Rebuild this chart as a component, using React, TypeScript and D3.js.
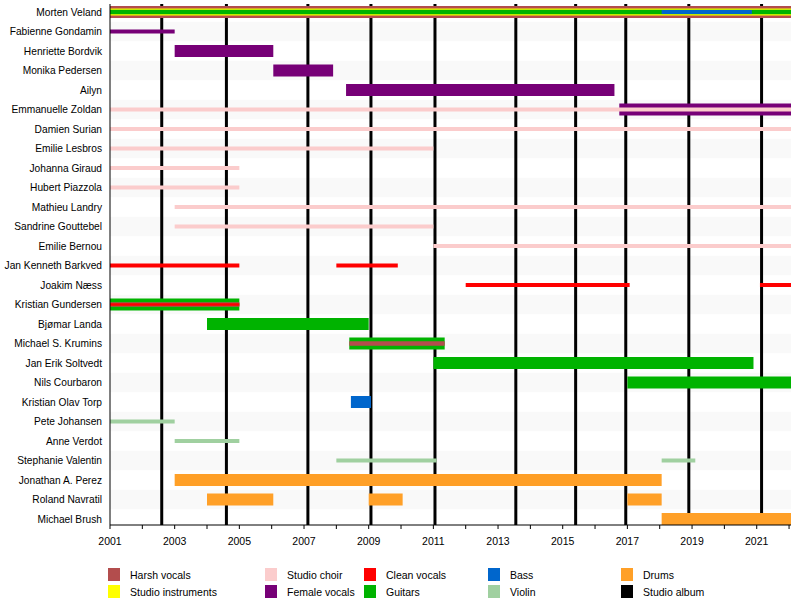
import React from "react";
import * as d3 from "d3";

const members = [
  "Morten Veland", "Fabienne Gondamin", "Henriette Bordvik", "Monika Pedersen", "Ailyn",
  "Emmanuelle Zoldan", "Damien Surian", "Emilie Lesbros", "Johanna Giraud", "Hubert Piazzola",
  "Mathieu Landry", "Sandrine Gouttebel", "Emilie Bernou", "Jan Kenneth Barkved", "Joakim Næss",
  "Kristian Gundersen", "Bjømar Landa", "Michael S. Krumins", "Jan Erik Soltvedt", "Nils Courbaron",
  "Kristian Olav Torp", "Pete Johansen", "Anne Verdot", "Stephanie Valentin", "Jonathan A. Perez",
  "Roland Navratil", "Michael Brush",
];

const roleColors: Record<string, string> = {
  "Harsh vocals": "#b34d4d",
  "Studio instruments": "#ffff00",
  "Studio choir": "#fbcccc",
  "Female vocals": "#770077",
  "Clean vocals": "#ff0000",
  "Guitars": "#00b300",
  "Bass": "#0066cc",
  "Violin": "#a0d0a0",
  "Drums": "#ffa028",
  "Studio album": "#000000",
};

const startYear = 2001;
const endYear = 2022.06;
const tickYears = d3.range(2001, 2023);
const albumYears = [2002.6, 2004.6, 2007.12, 2009.07, 2011.05, 2013.55, 2015.4, 2016.95, 2018.9, 2021.15];

// [member, role, from, to, barSize]
type Period = [string, string, number, number, string];
const periods: Period[] = [
  ["Morten Veland", "Harsh vocals", 2001, endYear, "full"],
  ["Morten Veland", "Studio instruments", 2001, endYear, "mid"],
  ["Morten Veland", "Guitars", 2001, endYear, "small"],
  ["Morten Veland", "Bass", 2018.06, 2020.85, "thin"],
  ["Fabienne Gondamin", "Female vocals", 2001, 2003, "thin"],
  ["Henriette Bordvik", "Female vocals", 2003, 2006.05, "full"],
  ["Monika Pedersen", "Female vocals", 2006.05, 2007.9, "full"],
  ["Ailyn", "Female vocals", 2008.3, 2016.6, "full"],
  ["Emmanuelle Zoldan", "Female vocals", 2016.75, endYear, "full"],
  ["Emmanuelle Zoldan", "Studio choir", 2001, endYear, "thin"],
  ["Damien Surian", "Studio choir", 2001, endYear, "thin"],
  ["Emilie Lesbros", "Studio choir", 2001, 2011, "thin"],
  ["Johanna Giraud", "Studio choir", 2001, 2005, "thin"],
  ["Hubert Piazzola", "Studio choir", 2001, 2005, "thin"],
  ["Mathieu Landry", "Studio choir", 2003, endYear, "thin"],
  ["Sandrine Gouttebel", "Studio choir", 2003, 2011, "thin"],
  ["Emilie Bernou", "Studio choir", 2011, endYear, "thin"],
  ["Jan Kenneth Barkved", "Clean vocals", 2001, 2005, "thin"],
  ["Jan Kenneth Barkved", "Clean vocals", 2008, 2009.9, "thin"],
  ["Joakim Næss", "Clean vocals", 2012, 2017.07, "thin"],
  ["Joakim Næss", "Clean vocals", 2021.1, endYear, "thin"],
  ["Kristian Gundersen", "Guitars", 2001, 2005, "full"],
  ["Kristian Gundersen", "Harsh vocals", 2001, 2005, "small"],
  ["Kristian Gundersen", "Clean vocals", 2001, 2005, "hair"],
  ["Bjømar Landa", "Guitars", 2004, 2009, "full"],
  ["Michael S. Krumins", "Guitars", 2008.4, 2011.35, "full"],
  ["Michael S. Krumins", "Harsh vocals", 2008.4, 2011.35, "small"],
  ["Jan Erik Soltvedt", "Guitars", 2011, 2020.9, "full"],
  ["Nils Courbaron", "Guitars", 2017, endYear, "full"],
  ["Kristian Olav Torp", "Bass", 2008.45, 2009.07, "full"],
  ["Pete Johansen", "Violin", 2001, 2003, "thin"],
  ["Anne Verdot", "Violin", 2003, 2005, "thin"],
  ["Stephanie Valentin", "Violin", 2008, 2011.1, "thin"],
  ["Stephanie Valentin", "Violin", 2018.06, 2019.1, "thin"],
  ["Jonathan A. Perez", "Drums", 2003, 2018.06, "full"],
  ["Roland Navratil", "Drums", 2004, 2006.05, "full"],
  ["Roland Navratil", "Drums", 2009, 2010.05, "full"],
  ["Roland Navratil", "Drums", 2017, 2018.06, "full"],
  ["Michael Brush", "Drums", 2018.06, endYear, "full"],
];

const barSizes: Record<string, number> = { full: 12, mid: 7, small: 4.5, thin: 4, hair: 2.5 };

const legendColumns = [
  ["Harsh vocals", "Studio instruments"],
  ["Studio choir", "Female vocals"],
  ["Clean vocals", "Guitars"],
  ["Bass", "Violin"],
  ["Drums", "Studio album"],
];
const legendColX = [108, 265, 364, 488, 621];

const W = 800;
const H = 605;
const left = 110;
const right = 791;
const top = 4;
const axisY = 525;
const font = "'Liberation Sans', Arial, sans-serif";

export default function App() {
  const x = d3.scaleLinear().domain([startYear, endYear]).range([left, right]);
  const y = d3.scalePoint<string>().domain(members).range([12, 519]);
  const step = y.step();
  const sorted = [...periods].sort((a, b) => barSizes[b[4]] - barSizes[a[4]]);

  return (
    <svg width={W} height={H} style={{ position: "absolute", left: 0, top: 0 }}>
      <rect width={W} height={H} fill="#ffffff" />
      {members.map((m, i) =>
        i % 2 === 1 ? (
          <rect key={m} x={left} y={(y(m) as number) - step / 2} width={right - left} height={step} fill="#f9f9f9" />
        ) : null
      )}
      {albumYears.map((a) => (
        <line key={a} x1={x(a)} x2={x(a)} y1={top} y2={axisY} stroke="#000" strokeWidth={3} />
      ))}
      {sorted.map((p, i) => {
        const h = barSizes[p[4]];
        return (
          <rect
            key={i}
            x={x(p[2])}
            width={x(p[3]) - x(p[2])}
            y={(y(p[0]) as number) - h / 2}
            height={h}
            fill={roleColors[p[1]]}
          />
        );
      })}
      <line x1={left} x2={left} y1={top} y2={axisY} stroke="#000" strokeWidth={1} />
      <line x1={left} x2={right} y1={axisY} y2={axisY} stroke="#000" strokeWidth={1} />
      {tickYears.map((t) => (
        <g key={t}>
          <line x1={x(t)} x2={x(t)} y1={axisY} y2={axisY + 4} stroke="#000" strokeWidth={1} />
          {(t - 2001) % 2 === 0 ? (
            <text x={x(t)} y={axisY + 20} textAnchor="middle" fontFamily={font} fontSize={10.5} fill="#000">
              {t}
            </text>
          ) : null}
        </g>
      ))}
      {members.map((m) => (
        <text key={m} x={102} y={(y(m) as number) + 3.8} textAnchor="end" fontFamily={font} fontSize={10.2} fill="#000">
          {m}
        </text>
      ))}
      {legendColumns.map((col, ci) =>
        col.map((r, ri) => (
          <g key={r}>
            <rect x={legendColX[ci]} y={568 + ri * 17} width={12} height={13} fill={roleColors[r]} />
            <text x={legendColX[ci] + 22} y={579 + ri * 17} fontFamily={font} fontSize={10.5} fill="#000">
              {r}
            </text>
          </g>
        ))
      )}
    </svg>
  );
}
